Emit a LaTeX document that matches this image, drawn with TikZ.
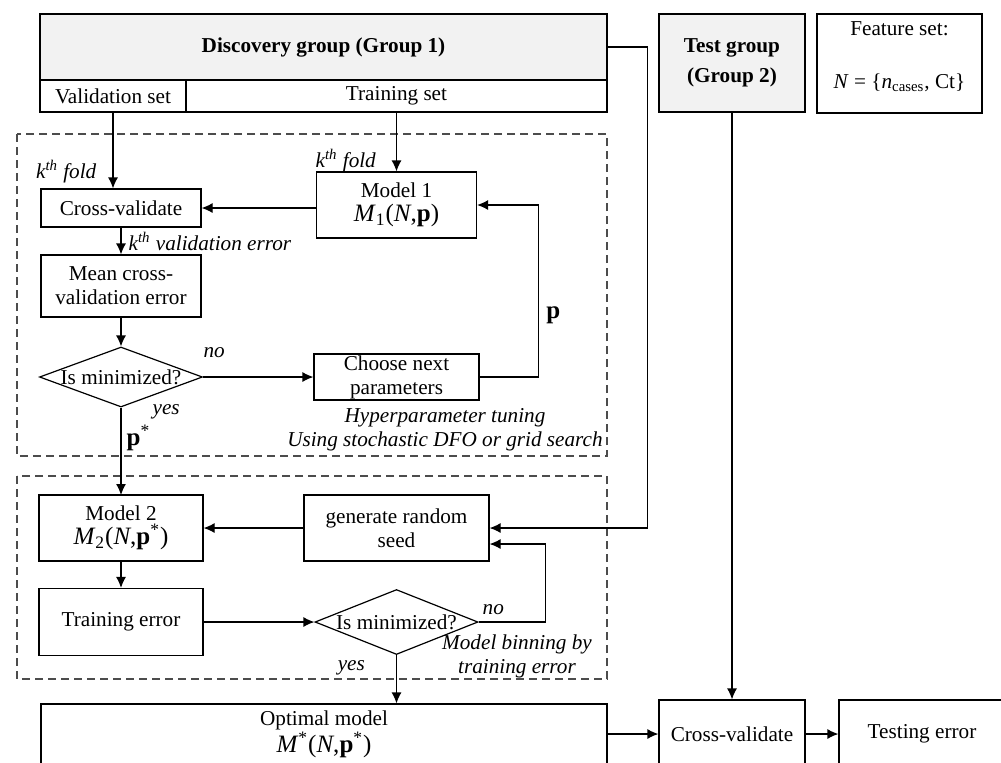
\documentclass[tikz,border=0pt]{standalone}
\usepackage{fontspec}
\setmainfont{Liberation Serif}
\usetikzlibrary{shapes.geometric, positioning, arrows.meta}

\newcommand{\eqfont}{\fontsize{12.5}{12}\selectfont}
\AtBeginDocument{\fontsize{10.6}{12}\selectfont}

\tikzset{
  >={Latex[length=5.5pt, width=5pt]},
  box/.style={draw, rectangle, align=center, inner sep=0pt},
  group/.style={box, fill=black!5, font=\bfseries},
  decision/.style={draw, diamond, inner sep=0pt, minimum width=81.5pt},
  lbl/.style={font=\itshape},
  frame/.style={draw=black!70, dash pattern=on 4pt off 2.5pt}
}

\begin{document}
\begin{tikzpicture}[x=0.5pt, y=-0.5pt, line width=0.6pt]

\useasboundingbox (0,0) rectangle (1001,762);
\clip (0,0) rectangle (1001,762);

% groups and feature set
\node[group, minimum width=283.5pt, minimum height=33pt] (disc)     at(323.5,47) {Discovery group (Group 1)};
\node[box, minimum width=73pt, minimum height=16pt]      (valset)   at(113,96)   {Validation set};
\node[box, minimum width=210.5pt, minimum height=16pt]   (trainset) at(396.5,96) {Training set};
\node[group, minimum width=73pt, minimum height=49pt]    (test)     at(732,63)   {Test group\\[3pt](Group 2)};
\node[box, minimum width=82.5pt, minimum height=49.5pt]  (feat)     at(899.5,63.5) {};
\node (feattitle) at(899.5,29) {Feature set:};
\node (featset)   at(899.5,83) {\textit{N} = \{\textit{n}\textsubscript{cases}, Ct\}};

\draw[frame] (17,134) rectangle (607,456);
\draw[frame] (17,476) rectangle (607,679);

% hyperparameter tuning
\node[box, minimum width=80pt, minimum height=19pt]   (cv1)    at(121,208)   {Cross-validate};
\node[box, minimum width=80pt, minimum height=33pt]   (model1) at(396.5,205) {Model 1\\{\eqfont\textit{M}\textsubscript{1}(\textit{N},\textbf{p})}};
\node[box, minimum width=80pt, minimum height=31pt]   (mean)   at(121,286)   {Mean cross-\\validation error};
\node[decision, minimum height=30pt]                  (dec1)   at(121,377)   {\makebox[0pt]{Is minimized?}};
\node[box, minimum width=82.5pt, minimum height=23pt] (choose) at(396.5,377) {Choose next\\parameters};
\node[lbl, align=center] (tuning) at(445,430) {Hyperparameter tuning\\Using stochastic DFO or grid search};

\draw[->] (valset) -- node[lbl, pos=0.78, left=4.5pt]{k\textsuperscript{th} fold} (valset |- cv1.north);
\draw[->] (trainset) -- node[lbl, pos=0.82, left=6.5pt]{k\textsuperscript{th} fold} (trainset |- model1.north);
\draw[->] (model1.west |- cv1.east) -- (cv1.east);
\draw[->] (cv1) -- node[lbl, right]{k\textsuperscript{th} validation error} (mean);
\draw[->] (mean) -- (dec1);
\draw[->] (dec1) -- node[lbl, pos=0.1, above=6pt]{no} (choose);
\draw[->] (choose.east) -- ++(59,0) |- node[pos=0.18, right]{\eqfont\textbf{p}} (model1.east);
\draw[->] (dec1) -- node[lbl, pos=0.05, right=12pt]{yes}
                   node[pos=0.35, right=-1pt]{\eqfont\textbf{p}\textsuperscript{*}} (dec1 |- 0,495);

% model binning
\node[box, minimum width=82pt, minimum height=33pt]   (model2) at(121,528)   {Model 2\\{\eqfont\textit{M}\textsubscript{2}(\textit{N},\textbf{p}\textsuperscript{*})}};
\node[box, minimum width=92.5pt, minimum height=33pt] (seed)   at(396.5,528) {generate random\\seed};
\node[box, minimum width=82pt, minimum height=33.5pt] (trerr)  at(121,622)   {Training error};
\node[decision, minimum height=32.5pt]                (dec2)   at(396.5,622) {\makebox[0pt]{Is minimized?}};
\node[lbl, align=center] (binning) at(517,656) {Model binning by\\training error};

\draw[->] (seed) -- (model2);
\draw[->] (model2) -- (trerr);
\draw[->] (trerr) -- (dec2);
\draw[->] (dec2.east) -- node[lbl, pos=0.22, above]{no} ++(67,0) |- ([yshift=-8pt]seed.east);
\draw[->] (disc.east) -- ++(40,0) |- (seed.east);

% testing
\node[box, minimum width=283pt, minimum height=30pt] (optimal) at(324,734) {Optimal model\\{\eqfont\textit{M}\textsuperscript{*}(\textit{N},\textbf{p}\textsuperscript{*})}};
\node[box, minimum width=73pt, minimum height=34pt]  (cv2)     at(732,734) {Cross-validate};
\node[box, minimum width=83pt, minimum height=34pt]  (testerr) at(922,734) {Testing error};

\draw[->] (dec2) -- node[lbl, pos=0.26, left=12pt]{yes} (dec2 |- optimal.north);
\draw[->] (test) -- (cv2);
\draw[->] (optimal) -- (cv2);
\draw[->] (cv2) -- (testerr);

\end{tikzpicture}
\end{document}
